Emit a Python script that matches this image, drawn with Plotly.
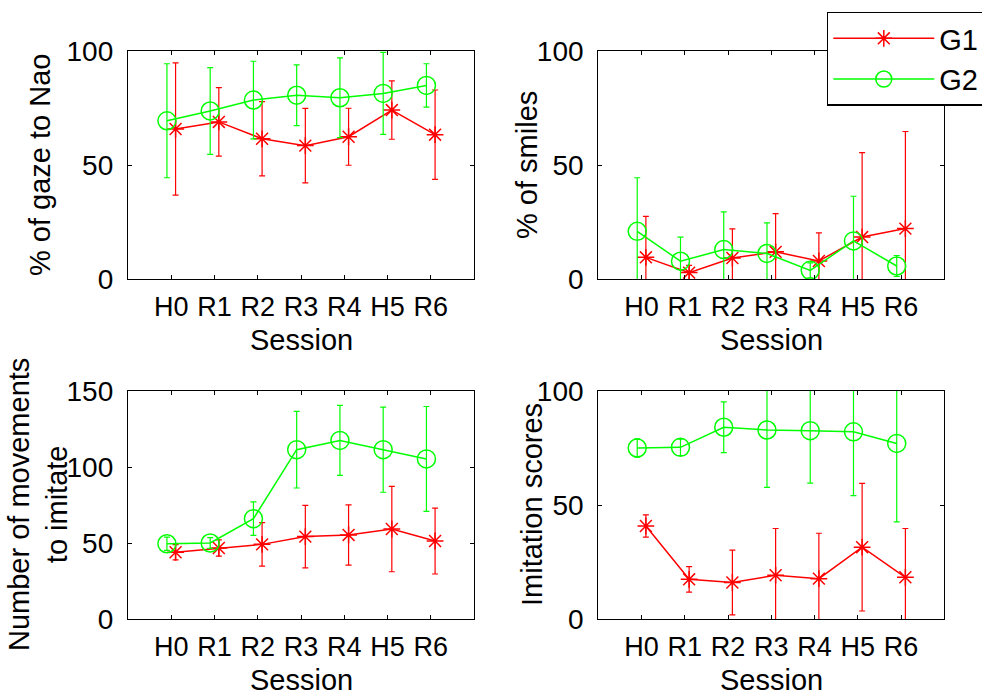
import plotly.graph_objects as go

sessions = ["H0", "R1", "R2", "R3", "R4", "H5", "R6"]

gaze_g1 = [65.8, 68.9, 61.5, 58.5, 62.4, 74.1, 63.3]
gaze_g1_err = [29.0, 15.0, 16.3, 16.3, 12.5, 12.8, 19.6]
gaze_g2 = [69.4, 73.7, 78.5, 80.6, 79.5, 81.4, 84.9]
gaze_g2_err = [25.0, 19.0, 17.0, 13.3, 17.5, 18.0, 9.5]

smiles_g1 = [9.5, 2.8, 9.2, 11.9, 7.9, 18.4, 22.1]
smiles_g1_err = [18.0, 3.2, 12.8, 16.8, 12.3, 37.0, 42.6]
smiles_g2 = [20.9, 7.8, 12.9, 11.2, 3.8, 16.7, 5.7]
smiles_g2_err = [23.5, 10.6, 16.5, 13.4, 3.3, 19.6, 4.6]

moves_g1 = [43.9, 46.7, 49.1, 54.2, 55.3, 59.2, 51.3]
moves_g1_err = [5.0, 5.3, 14.3, 20.6, 19.8, 28.1, 21.7]
moves_g2 = [49.5, 50.0, 66.0, 111.4, 117.5, 111.4, 105.3]
moves_g2_err = [4.4, 3.5, 11.0, 25.2, 23.0, 28.0, 34.5]

imit_g1 = [40.8, 17.4, 16.0, 19.2, 17.7, 31.5, 18.3]
imit_g1_err = [4.9, 5.6, 14.2, 20.5, 19.9, 28.0, 21.4]
imit_g2 = [75.0, 75.3, 84.1, 82.9, 82.6, 82.1, 77.0]
imit_g2_err = [4.0, 3.6, 11.1, 25.2, 23.0, 28.0, 34.4]

W, H = 982, 695
FONT = "Liberation Sans, Arial, sans-serif"
RED = "#ff0000"
GREEN = "#00ff00"

panels = [
    (gaze_g1, gaze_g1_err, gaze_g2, gaze_g2_err, 100, [0, 50, 100],
     "% of gaze to Nao", (128, 474), (51, 279)),
    (smiles_g1, smiles_g1_err, smiles_g2, smiles_g2_err, 100, [0, 50, 100],
     "% of smiles", (598.3, 944.3), (51, 279)),
    (moves_g1, moves_g1_err, moves_g2, moves_g2_err, 150, [0, 50, 100, 150],
     "Number of movements<br>to imitate", (128, 474), (391, 619)),
    (imit_g1, imit_g1_err, imit_g2, imit_g2_err, 100, [0, 50, 100],
     "Imitation scores", (598.3, 944.3), (391, 619)),
]

idx = list(range(1, len(sessions) + 1))
x_g1 = [i + 0.1 for i in idx]
x_g2 = [i - 0.1 for i in idx]

fig = go.Figure()
annotations = []
title_x = [40, 527, 38, 532]

for k, (g1, e1, g2, e2, ymax, yt, ytitle, xd, yd) in enumerate(panels):
    n = "" if k == 0 else str(k + 1)
    xa, ya = "x" + n, "y" + n
    fig.add_trace(go.Scatter(
        x=x_g1, y=g1, xaxis=xa, yaxis=ya, mode="lines+markers", name="G1",
        showlegend=(k == 0), legendrank=1,
        line=dict(color=RED, width=1.5),
        marker=dict(symbol="asterisk-open", size=14, color=RED,
                    line=dict(color=RED, width=1.5)),
        error_y=dict(type="data", array=e1, visible=True, color=RED,
                     thickness=1.2, width=3),
    ))
    fig.add_trace(go.Scatter(
        x=x_g2, y=g2, xaxis=xa, yaxis=ya, mode="lines+markers", name="G2",
        showlegend=(k == 0), legendrank=2,
        line=dict(color=GREEN, width=1.5),
        marker=dict(symbol="circle-open", size=18, color=GREEN,
                    line=dict(color=GREEN, width=1.5)),
        error_y=dict(type="data", array=e2, visible=True, color=GREEN,
                     thickness=1.2, width=3),
    ))
    axcommon = dict(showline=True, linecolor="black", linewidth=1.3,
                    mirror="ticks", ticks="inside", ticklen=4,
                    tickcolor="black", tickwidth=1, showgrid=False,
                    zeroline=False, automargin=False)
    fig.update_layout({
        "xaxis" + n: dict(domain=[xd[0] / W, xd[1] / W], range=[0, 8],
                          tickvals=idx, ticktext=sessions, anchor=ya,
                          ticklabelstandoff=3,
                          tickfont=dict(family=FONT, size=27, color="black"),
                          **axcommon),
        "yaxis" + n: dict(domain=[1 - yd[1] / H, 1 - yd[0] / H], range=[0, ymax],
                          tickvals=yt, anchor=xa, ticklabelstandoff=8,
                          tickfont=dict(family=FONT, size=28, color="black"),
                          **axcommon),
    })
    annotations.append(dict(
        text=ytitle, xref="paper", yref="paper", x=title_x[k] / W,
        y=1 - (yd[0] + yd[1]) / 2 / H, textangle=-90, showarrow=False,
        xanchor="center", yanchor="middle",
        font=dict(family=FONT, size=29, color="black")))
    annotations.append(dict(
        text="Session", xref="paper", yref="paper", x=(xd[0] + xd[1]) / 2 / W,
        y=1 - (yd[1] + 61) / H, showarrow=False, xanchor="center", yanchor="middle",
        font=dict(family=FONT, size=29, color="black")))

fig.update_layout(
    width=W, height=H, margin=dict(l=0, r=0, t=0, b=0, autoexpand=False),
    paper_bgcolor="white", plot_bgcolor="white",
    annotations=annotations,
    legend=dict(x=827 / W, y=1 - 11.7 / H, xanchor="left", yanchor="top",
                bordercolor="black", borderwidth=1.3, bgcolor="white",
                font=dict(family=FONT, size=29, color="black"),
                itemwidth=101, tracegroupgap=0,
                entrywidth=175, entrywidthmode="pixels"),
)

fig.write_html("out.html", config={"displayModeBar": False},
               post_script="document.body.style.margin='0px';document.body.style.overflow='hidden';")
